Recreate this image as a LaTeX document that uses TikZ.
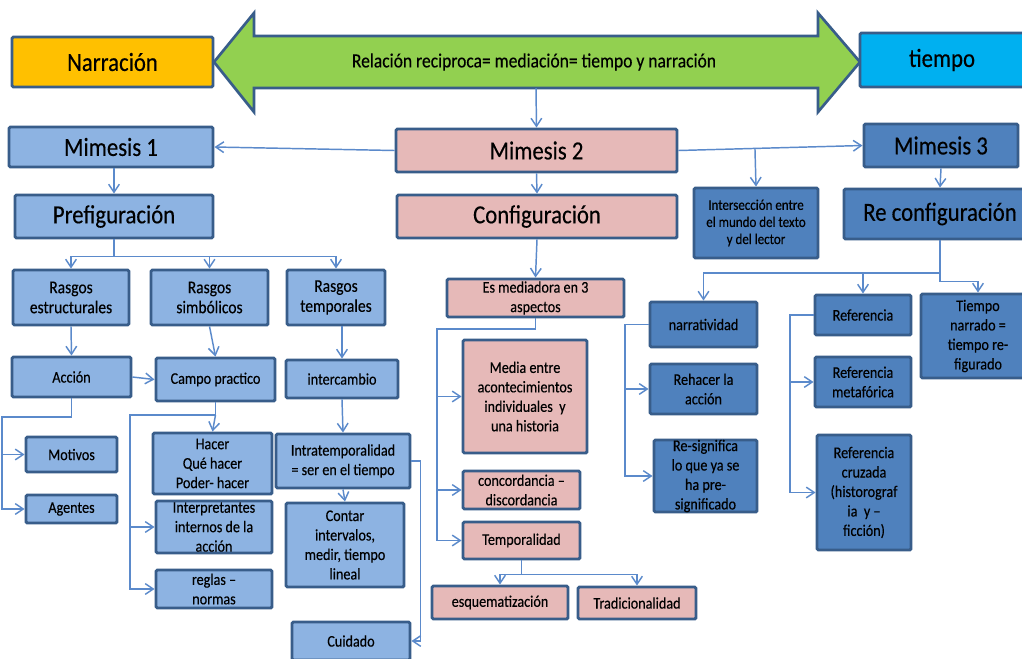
\documentclass[tikz,border=0pt]{standalone}
\usepackage{fontspec}
\setmainfont{Carlito}[FakeStretch=0.87,FakeBold=0.3]
\usetikzlibrary{arrows.meta,fit,calc}
\definecolor{bord}{HTML}{385D8A}
\definecolor{orng}{HTML}{FFC000}
\definecolor{cyanb}{HTML}{00B0F0}
\definecolor{grn}{HTML}{92D050}
\definecolor{lblue}{HTML}{8DB3E2}
\definecolor{pnk}{HTML}{E6B9B8}
\definecolor{mblue}{HTML}{4F81BD}
\definecolor{lineC}{HTML}{5B8ACB}
\tikzset{
 bx/.style={draw=bord, line width=2.2pt, rounded corners=1pt, inner sep=0pt},
 ob/.style={bx, fill=orng}, cb/.style={bx, fill=cyanb},
 lb/.style={bx, fill=lblue}, pk/.style={bx, fill=pnk}, mb/.style={bx, fill=mblue},
 txt/.style={align=center, inner sep=0pt, text=black},
 big/.style={txt, font=\fontsize{19.6}{20}\selectfont},
 mid/.style={txt, font=\fontsize{13.4}{15}\selectfont},
 sml/.style={txt, font=\fontsize{12.2}{14.6}\selectfont},
 tny/.style={txt, font=\fontsize{11.2}{12.8}\selectfont},
 ln/.style={draw=lineC, line width=1.1pt},
 conn/.style={ln, -{Straight Barb[length=6pt,width=8pt]}},
}
\newcommand\Bx[8]{%
  \node[#2, fit={(#4,#5) (#6,#7)}] (#1) {};
  \node[#3] (#1t) at (#1.center) {#8};}
\begin{document}
\begin{tikzpicture}[x=0.75pt,y=-0.75pt]
\fill[white] (0,0) rectangle (1022,658);
\useasboundingbox (0,0) rectangle (1022,658);
% double arrow
\draw[draw=bord, line width=2pt, fill=grn, line join=miter]
  (214,62) -- (254,13) -- (254,36) -- (818,36) -- (818,13) -- (860,62)
  -- (818,112) -- (818,88) -- (254,88) -- (254,112) -- cycle;
\node[txt, font=\fontsize{15.1}{15}\selectfont] (rel) at (534,62) {Relación reciproca= mediación= tiempo y narración};
\coordinate (ab) at (536,88);
% boxes
\Bx{nar}{ob}{big}{12}{37}{213}{87}{Narración}
\Bx{tie}{cb}{big}{860}{33}{1024}{87}{tiempo}
\Bx{m1}{lb}{big}{9}{127}{213}{167}{Mimesis 1}
\Bx{m2}{pk}{big}{396}{129}{677}{172}{Mimesis 2}
\Bx{m3}{mb}{big}{864}{124}{1018}{167}{Mimesis 3}
\Bx{pre}{lb}{big}{15}{195}{213}{238}{Prefiguración}
\Bx{con}{pk}{big}{397}{195}{677}{238}{Configuración}
\Bx{ise}{mb}{tny}{694}{188}{818}{258}{Intersección entre\\el mundo del texto\\y del lector}
\Bx{rec}{mb}{big}{844}{189}{1036}{239}{Re configuración}
\Bx{re}{lb}{mid}{13}{270}{129}{325}{Rasgos\\estructurales}
\Bx{rs}{lb}{mid}{151}{270}{268}{325}{Rasgos\\simbólicos}
\Bx{rt}{lb}{mid}{287}{270}{385}{325}{Rasgos\\temporales}
\Bx{acc}{lb}{sml}{12}{357}{131}{397}{Acción}
\Bx{cam}{lb}{sml}{156}{358}{275}{401}{Campo practico}
\Bx{int}{lb}{sml}{286}{360}{398}{398}{intercambio}
\Bx{mot}{lb}{sml}{26}{437}{117}{472}{Motivos}
\Bx{age}{lb}{sml}{26}{495}{117}{523}{Agentes}
\Bx{hac}{lb}{sml}{153}{433}{272}{494}{Hacer\\Qué hacer\\Poder- hacer}
\Bx{itp}{lb}{sml}{156}{501}{272}{553}{Interpretantes\\internos de la\\acción}
\Bx{reg}{lb}{sml}{156}{570}{272}{608}{reglas –\\normas}
\Bx{itr}{lb}{sml}{276}{434}{410}{488}{Intratemporalidad\\= ser en el tiempo}
\Bx{cnt}{lb}{sml}{286}{503}{404}{587}{Contar\\intervalos,\\medir, tiempo\\lineal}
\Bx{cui}{lb}{sml}{292}{622}{410}{660}{Cuidado}
\Bx{esm}{pk}{sml}{447}{279}{624}{317}{Es mediadora en 3\\aspectos}
\Bx{med}{pk}{sml}{463}{340}{587}{453}{Media entre\\acontecimientos\\individuales \ y\\una historia}
\Bx{cdc}{pk}{sml}{463}{471}{580}{509}{concordancia –\\discordancia}
\Bx{tmp}{pk}{sml}{463}{522}{580}{559}{Temporalidad}
\Bx{esq}{pk}{sml}{432}{586}{568}{619}{esquematización}
\Bx{tra}{pk}{sml}{578}{587}{696}{619}{Tradicionalidad}
\Bx{nrt}{mb}{sml}{650}{302}{757}{347}{narratividad}
\Bx{reh}{mb}{sml}{650}{364}{757}{414}{Rehacer la\\acción}
\Bx{res}{mb}{sml}{654}{440}{757}{512}{Re-significa\\lo que ya se\\ha pre-\\significado}
\Bx{ref}{mb}{sml}{815}{295}{911}{335}{Referencia}
\Bx{rfm}{mb}{sml}{815}{357}{911}{407}{Referencia\\metafórica}
\Bx{rfc}{mb}{sml}{817}{435}{911}{550}{Referencia\\cruzada\\(historograf\\ia \ y –\\ficción)}
\Bx{tnr}{mb}{sml}{921}{294}{1035}{378}{Tiempo\\narrado =\\tiempo re-\\figurado}
% connectors
\draw[conn] (ab) -- (m2.north);
\draw[conn] (m2.west) -- (m1.east);
\draw[conn] (m2.east) -- (m3.west);
\coordinate (ib) at ($(m2.east)!(ise.north)!(m3.west)$);
\draw[conn] (ib) -- (ise.north);
\draw[conn] (pre.north |- m1.south) -- (pre.north);
\draw[conn] (m2.south) -- (con.north);
\draw[conn] (m3.south) -- (rec.north);
\coordinate (pj) at ($(pre.south)+(0,17)$);
\draw[ln] (pre.south) -- (pj);
\draw[conn] (pj) -| (re.north);
\draw[conn] (pj) -| (rs.north);
\draw[conn] (pj) -| (rt.north);
\draw[conn] (re.south) -- (acc.north);
\draw[conn] (rs.south) -- (cam.north);
\draw[conn] (int.north |- rt.south) -- (int.north);
\draw[conn] (acc.east) -- (cam.west);
\coordinate (al) at (2,417);
\draw[conn] (acc.south) |- (al) |- (age.west);
\draw[conn] (al |- mot.west) -- (mot.west);
\coordinate (cl) at (130,415);
\draw[conn] (cam.south) |- (cl) |- (reg.west);
\draw[conn] (cl |- itp.west) -- (itp.west);
\draw[conn] (cam.south |- cl) -- (hac.north);
\draw[conn] (int.south) -- (itr.north);
\draw[conn] (itr.south) -- (cnt.north);
\draw[conn] (itr.east) -- ++(9,0) |- (cui.east);
\draw[conn] (con.south) -- (esm.north);
\coordinate (el) at (437,329);
\draw[conn] (esm.south) |- (el) |- (tmp.west);
\draw[conn] (el |- med.west) -- (med.west);
\draw[conn] (el |- cdc.west) -- (cdc.west);
\coordinate (tj) at ($(tmp.south)+(0,14)$);
\draw[ln] (tmp.south) -- (tj);
\draw[conn] (tj) -| (esq.north);
\draw[conn] (tj) -| (tra.north);
\coordinate (rj) at (940,273);
\draw[conn] (rec.south) -- (rj) -| (nrt.north);
\draw[conn] (rj -| ref.north) -- (ref.north);
\coordinate (tj2) at ($(tnr.north)+(0,-11)$);
\draw[conn] (rec.south) |- (tj2) -- (tnr.north);
\coordinate (nl) at (625,0);
\draw[conn] (nrt.west) -- (nrt.west -| nl) |- (res.west);
\draw[conn] (nl |- reh.west) -- (reh.west);
\coordinate (fl) at (790,0);
\draw[conn] (ref.west) -- (ref.west -| fl) |- (rfc.west);
\draw[conn] (fl |- rfm.west) -- (rfm.west);
\end{tikzpicture}
\end{document}
